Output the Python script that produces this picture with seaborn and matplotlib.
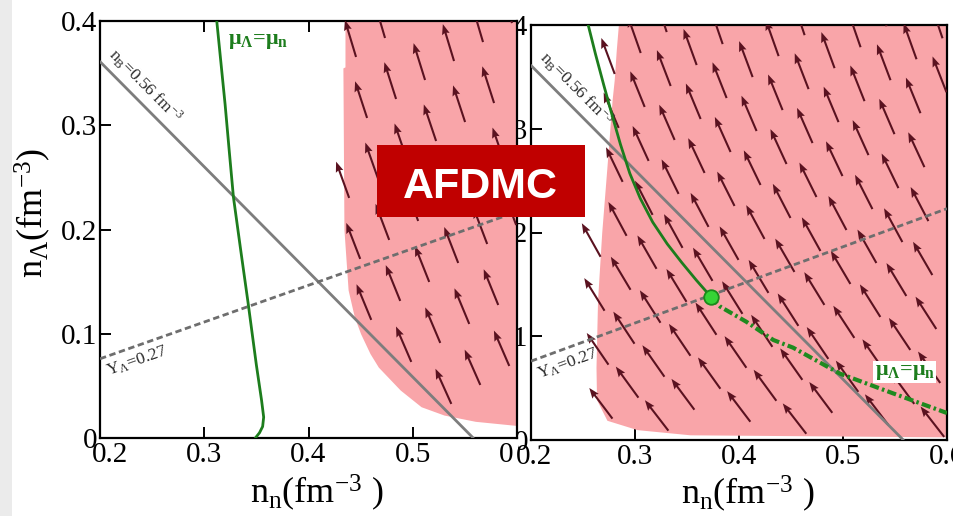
import numpy as np
import matplotlib
matplotlib.use("Agg")
import matplotlib.pyplot as plt
import seaborn as sns
from matplotlib.patches import Rectangle
from matplotlib.transforms import Bbox, TransformedBbox, ScaledTranslation

# ---------------- data ----------------
xticks = [0.2, 0.3, 0.4, 0.5, 0.6]
xtick_labels = ["0.2", "0.3", "0.4", "0.5", "0.6"]
yticks = [0.0, 0.1, 0.2, 0.3, 0.4]
ytick_labels = ["0", "0.1", "0.2", "0.3", "0.4"]

# n_B = 0.56 fm^-3 line (both panels)
nb_line_nn = [0.2, 0.558]
nb_line_nlam = [0.361, 0.0]
# Y_Lambda = 0.27 line
yl_left_nn = [0.2, 0.6]
yl_left_nlam = [0.076, 0.217]
yl_right_nn = [0.2, 0.6]
yl_right_nlam = [0.076, 0.223]

# pink (unstable) region: left boundary n_n as function of n_Lambda
left_edge_nlam = [0.012, 0.016, 0.022, 0.030, 0.046, 0.068, 0.081, 0.100, 0.116, 0.142, 0.200, 0.355, 0.356, 0.400]
left_edge_nn = [0.600, 0.560, 0.530, 0.508, 0.488, 0.467, 0.459, 0.450, 0.444, 0.438, 0.434, 0.433, 0.435, 0.435]
right_edge_nlam = [0.003, 0.005, 0.010, 0.019, 0.039, 0.070, 0.135, 0.200, 0.263, 0.328, 0.347, 0.376, 0.400]
right_edge_nn = [0.600, 0.353, 0.302, 0.273, 0.263, 0.2625, 0.264, 0.268, 0.273, 0.278, 0.280, 0.282, 0.284]

# mu_Lambda = mu_n curves
left_mu_nn = [0.312, 0.316, 0.320, 0.324, 0.328, 0.335, 0.342, 0.350, 0.355, 0.357, 0.356, 0.353, 0.349]
left_mu_nlam = [0.400, 0.360, 0.320, 0.275, 0.231, 0.180, 0.130, 0.070, 0.036, 0.020, 0.011, 0.005, 0.000]
right_mu_nn = [0.255, 0.262, 0.270, 0.278, 0.286, 0.295, 0.305, 0.317, 0.331, 0.345, 0.359, 0.373]
right_mu_nlam = [0.400, 0.372, 0.342, 0.313, 0.285, 0.257, 0.233, 0.210, 0.189, 0.171, 0.154, 0.138]
right_mu_dd_nn = [0.373, 0.382, 0.407, 0.433, 0.452, 0.497, 0.548, 0.600]
right_mu_dd_nlam = [0.138, 0.1285, 0.114, 0.0964, 0.089, 0.064, 0.045, 0.026]
cross_nn = [0.373]
cross_nlam = [0.138]

# arrow field lattice (tail origin and two lattice steps, data units)
left_arrow_origin = (0.5118, 0.3434)
left_arrow_a = (-0.0278, -0.0182)
left_arrow_b = (0.0384, -0.0403)
right_arrow_origin = (0.3593, 0.3614)
right_arrow_a = (-0.0250, -0.0202)
right_arrow_b = (0.0288, -0.0318)
tilt_nlam = [0.0, 0.4]
left_tilt_deg = [25.0, 16.0]
right_tilt_deg = [38.0, 18.0]
arrow_len = 0.037

# ---------------- style ----------------
sns.set_theme(style="ticks")
plt.rcParams['font.family'] = ['Liberation Serif', 'DejaVu Serif']
plt.rcParams['mathtext.fontset'] = 'custom'
plt.rcParams['mathtext.rm'] = 'Liberation Serif'
plt.rcParams['mathtext.it'] = 'Liberation Serif:italic'
plt.rcParams['mathtext.bf'] = 'Liberation Serif:bold'

PINK = '#f9a5a9'
ARROW = '#5a1220'
GRAY = '#7d7d7d'
GREEN = '#1d7d1d'

W, H = 954, 516
fig = plt.figure(figsize=(W / 100, H / 100), dpi=100)
fig.patches.append(Rectangle((0, 0), 12 / W, 1, transform=fig.transFigure,
                             facecolor='#ebebeb', edgecolor='none', zorder=0))

ax1 = fig.add_axes([100 / W, 78 / H, 417 / W, 417 / H])
ax2 = fig.add_axes([531 / W, 76 / H, 416 / W, 415 / H])


def arrow_tails(origin, a, b, edge_nn, edge_nlam):
    pts = []
    for i in range(-40, 41):
        for j in range(-40, 41):
            x = origin[0] + i * a[0] + j * b[0]
            y = origin[1] + i * a[1] + j * b[1]
            if 0.2 <= x <= 0.6 and 0.0 <= y <= 0.4 and y >= edge_nlam[0]:
                if x >= np.interp(y, edge_nlam, edge_nn) - 0.004:
                    pts.append((x, y))
    return np.array(pts)


def panel(ax, edge_nn, edge_nlam, origin, a, b, tilt, yl_nn, yl_nlam):
    ax.fill_betweenx(edge_nlam, edge_nn, 0.6, color=PINK, lw=0, zorder=1)
    pts = arrow_tails(origin, a, b, edge_nn, edge_nlam)
    th = np.radians(np.interp(pts[:, 1], tilt_nlam, tilt))
    ax.quiver(pts[:, 0], pts[:, 1], -arrow_len * np.sin(th), arrow_len * np.cos(th),
              angles='xy', scale_units='xy', scale=1, color=ARROW,
              width=0.0050, headwidth=3.8, headlength=5.0, headaxislength=4.4,
              pivot='tail', zorder=3)
    sns.lineplot(x=nb_line_nn, y=nb_line_nlam, ax=ax, color=GRAY, linewidth=2,
                 sort=False, estimator=None, zorder=4)
    sns.lineplot(x=yl_nn, y=yl_nlam, ax=ax, color='#6e6e6e', linewidth=2,
                 linestyle=(0, (2.3, 1.3)), sort=False, estimator=None, zorder=4)
    ang_b = np.degrees(np.arctan2(nb_line_nlam[1] - nb_line_nlam[0], nb_line_nn[1] - nb_line_nn[0]))
    ax.text(0.204, 0.364, r'n$_\mathrm{B}$=0.56 fm$^{-3}$', fontsize=12.5, color='#2a2a2a',
            rotation=ang_b, transform_rotates_text=True, rotation_mode='anchor',
            ha='left', va='bottom', zorder=5)
    ang_y = np.degrees(np.arctan2(yl_nlam[1] - yl_nlam[0], yl_nn[1] - yl_nn[0]))
    ax.text(0.204, 0.071, r'Y$_\Lambda$=0.27', fontsize=12.5, color='#2a2a2a',
            rotation=ang_y, transform_rotates_text=True, rotation_mode='anchor',
            ha='left', va='top', zorder=5)

    ax.set_xlim(0.2, 0.6)
    ax.set_ylim(0.0, 0.4)
    ax.set_xticks(xticks)
    ax.set_xticklabels(xtick_labels)
    ax.set_yticks(yticks)
    ax.set_yticklabels(ytick_labels)
    ax.tick_params(direction='in', length=8, width=1.4, top=True, right=True,
                   labelsize=21, pad=3, colors='black')
    ax.tick_params(axis='y', pad=2)
    for s in ax.spines.values():
        s.set_linewidth(1.6)
        s.set_color('black')
        s.set_visible(True)
    ax.set_xlabel(r'n$_\mathrm{n}$(fm$^{\mathrm{-3}}$ )', fontsize=26, color='black')
    ax.xaxis.set_label_coords(0.52, -0.082)


panel(ax1, left_edge_nn, left_edge_nlam, left_arrow_origin, left_arrow_a, left_arrow_b,
      left_tilt_deg, yl_left_nn, yl_left_nlam)
panel(ax2, right_edge_nn, right_edge_nlam, right_arrow_origin, right_arrow_a, right_arrow_b,
      right_tilt_deg, yl_right_nn, yl_right_nlam)

# green mu_Lambda = mu_n curves
sns.lineplot(x=left_mu_nn, y=left_mu_nlam, ax=ax1, color=GREEN, linewidth=2,
             sort=False, estimator=None, zorder=6)
sns.lineplot(x=right_mu_nn, y=right_mu_nlam, ax=ax2, color=GREEN, linewidth=2,
             sort=False, estimator=None, zorder=6)
sns.lineplot(x=right_mu_dd_nn, y=right_mu_dd_nlam, ax=ax2, color='#1f8a1f', linewidth=3,
             linestyle=(0, (2.2, 0.8, 0.6, 0.8)), sort=False, estimator=None, zorder=6)
sns.scatterplot(x=cross_nn, y=cross_nlam, ax=ax2, s=110, color='#36d336',
                edgecolor='#1b8a1b', linewidth=1.3, zorder=7)

ax1.text(0.352, 0.381, r'$\mathbf{\mu_\Lambda}$=$\mathbf{\mu_n}$', fontsize=16, color=GREEN,
         fontweight='bold', ha='center', va='center', zorder=6)
ax2.text(0.5596, 0.0655, r'$\mathbf{\mu_\Lambda}$=$\mathbf{\mu_n}$', fontsize=16, color=GREEN,
         fontweight='bold', ha='center', va='center', zorder=8,
         bbox=dict(facecolor='white', edgecolor='none', pad=1.0))

ax1.set_ylabel(r'n$_\Lambda$(fm$^{-3}$)', fontsize=26, color='black')
ax1.yaxis.set_label_coords(-0.113, 0.54)
ax2.set_ylabel('')

# label clipping / offsets to mimic the overlapped panels
clip_left = TransformedBbox(Bbox([[0, 0], [514 / W, 1]]), fig.transFigure)
for lbl in ax1.get_xticklabels():
    lbl.set_clip_box(clip_left)
    lbl.set_clip_on(True)
first = ax1.get_xticklabels()[0]
first.set_transform(first.get_transform() + ScaledTranslation(0.10, 0, fig.dpi_scale_trans))
first_r = ax2.get_xticklabels()[0]
first_r.set_transform(first_r.get_transform() + ScaledTranslation(0.03, 0, fig.dpi_scale_trans))
clip_right = TransformedBbox(Bbox([[518 / W, 0], [531 / W, 1]]), fig.transFigure)
for lbl in ax2.get_yticklabels():
    lbl.set_clip_box(clip_right)
    lbl.set_clip_on(True)

# AFDMC tag
fig.patches.append(Rectangle((377 / W, (H - 217) / H), 208 / W, 72 / H, transform=fig.transFigure,
                             facecolor='#c00000', edgecolor='none', zorder=10))
fig.text(480 / W, (H - 198) / H, 'AFDMC', color='white', fontsize=31, fontweight='bold',
         family=['Liberation Sans', 'DejaVu Sans'], ha='center', va='baseline', zorder=11)

fig.savefig('out.png', dpi=100)
